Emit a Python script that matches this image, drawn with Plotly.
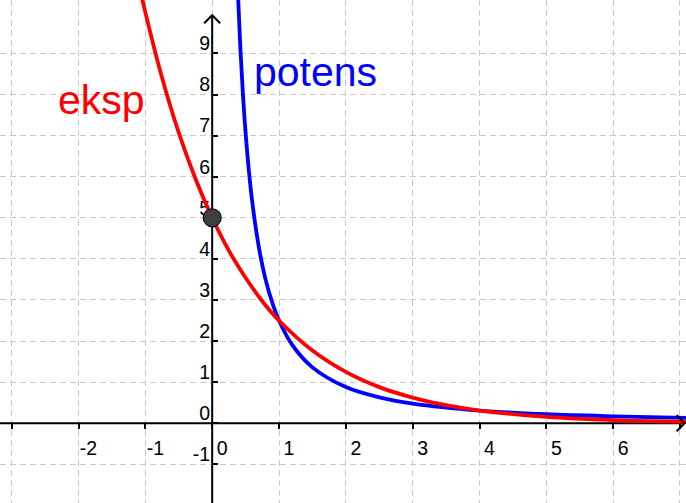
import plotly.graph_objects as go

# Exponential model "eksp": sampled points (x, y)
eksp_x = [-1.1, -1.0, -0.75, -0.5, -0.25, 0.0, 0.25, 0.5, 0.75, 1.0, 1.5, 2.0, 2.5, 3.0, 3.5, 4.0, 5.0, 6.0, 7.2]
eksp_y = [10.72, 10.0, 8.41, 7.07, 5.95, 5.0, 4.20, 3.54, 2.97, 2.5, 1.77, 1.25, 0.88, 0.625, 0.44, 0.31, 0.156, 0.078, 0.034]

# Power model "potens": sampled points (x, y)
potens_x = [0.38, 0.42, 0.46, 0.5, 0.55, 0.6, 0.7, 0.8, 0.9, 1.0, 1.2, 1.5, 2.0, 2.5, 3.0, 4.0, 5.0, 6.0, 7.2]
potens_y = [10.67, 9.18, 8.01, 7.07, 6.13, 5.38, 4.27, 3.49, 2.93, 2.5, 1.90, 1.36, 0.88, 0.63, 0.48, 0.31, 0.22, 0.17, 0.13]

# Start point shared on the y-axis
point_x = [0]
point_y = [5]

x_ticks = [-3, -2, -1, 0, 1, 2, 3, 4, 5, 6, 7]
x_labels = ["", "-2", "-1", "0", "1", "2", "3", "4", "5", "6", ""]
y_ticks = [-1, 0, 1, 2, 3, 4, 5, 6, 7, 8, 9]
y_labels = ["-1", "0", "1", "2", "3", "4", "5", "6", "7", "8", "9"]

x_range = [-3.175, 7.09]
y_range = [-1.94, 10.30]
y_axis_top = 9.93

font_family = "Liberation Sans, Arial, sans-serif"

fig = go.Figure()
fig.add_trace(go.Scatter(x=potens_x, y=potens_y, mode="lines",
                         line=dict(color="#0000ff", width=3.8, shape="spline", smoothing=1.0),
                         hoverinfo="skip", showlegend=False))
fig.add_trace(go.Scatter(x=eksp_x, y=eksp_y, mode="lines",
                         line=dict(color="#ff0000", width=3.8, shape="spline", smoothing=1.0),
                         hoverinfo="skip", showlegend=False))
fig.add_trace(go.Scatter(x=point_x, y=point_y, mode="markers",
                         marker=dict(size=18, color="#404040", line=dict(color="#111111", width=1.2)),
                         hoverinfo="skip", showlegend=False))

# Axis lines through the origin, drawn above the grid but beneath the curves
fig.add_shape(type="line", xref="x", yref="y", x0=x_range[0], x1=x_range[1] - 0.02, y0=0, y1=0,
              line=dict(color="black", width=2), layer="between")
fig.add_shape(type="line", xref="x", yref="y", x0=0, x1=0, y0=y_range[0], y1=y_axis_top,
              line=dict(color="black", width=2), layer="between")
# Open arrow heads
fig.add_shape(type="path", xref="x", yref="y", xsizemode="pixel", ysizemode="pixel",
              xanchor=0, yanchor=y_axis_top, path="M -8,-8 L 0,0 L 8,-8",
              line=dict(color="black", width=2))
fig.add_shape(type="path", xref="x", yref="y", xsizemode="pixel", ysizemode="pixel",
              xanchor=x_range[1] - 0.02, yanchor=0, path="M -8,8 L 0,0 L -8,-8",
              line=dict(color="black", width=2))

fig.add_annotation(x=-2.33, y=7.86, xref="x", yref="y", text="eksp", showarrow=False,
                   xanchor="left", yanchor="middle",
                   font=dict(family=font_family, size=41, color="#ff0000"))
fig.add_annotation(x=0.60, y=8.55, xref="x", yref="y", text="potens", showarrow=False,
                   xanchor="left", yanchor="middle",
                   font=dict(family=font_family, size=41, color="#0000ff"))

x_pos = (0 - y_range[0]) / (y_range[1] - y_range[0])
y_pos = (0 - x_range[0]) / (x_range[1] - x_range[0])

grid = dict(showgrid=True, gridcolor="#c8c8c8", gridwidth=1, griddash="6px,4px",
            zeroline=False, showline=False, fixedrange=True, layer="below traces",
            tickfont=dict(family=font_family, size=19.5, color="black"),
            tickcolor="black", tickwidth=2, ticklen=5)

fig.update_layout(
    width=686, height=503,
    margin=dict(l=0, r=0, t=0, b=0),
    paper_bgcolor="white", plot_bgcolor="white",
    xaxis=dict(range=x_range, tickvals=x_ticks, ticktext=x_labels, anchor="free", position=x_pos,
               ticks="outside", ticklabelshift=10, ticklabelstandoff=2, **grid),
    yaxis=dict(range=y_range, tickvals=y_ticks, ticktext=y_labels, anchor="free", position=y_pos,
               ticks="inside", ticklabelshift=-10, ticklabelstandoff=2, **grid),
)

fig.write_html("out.html")
